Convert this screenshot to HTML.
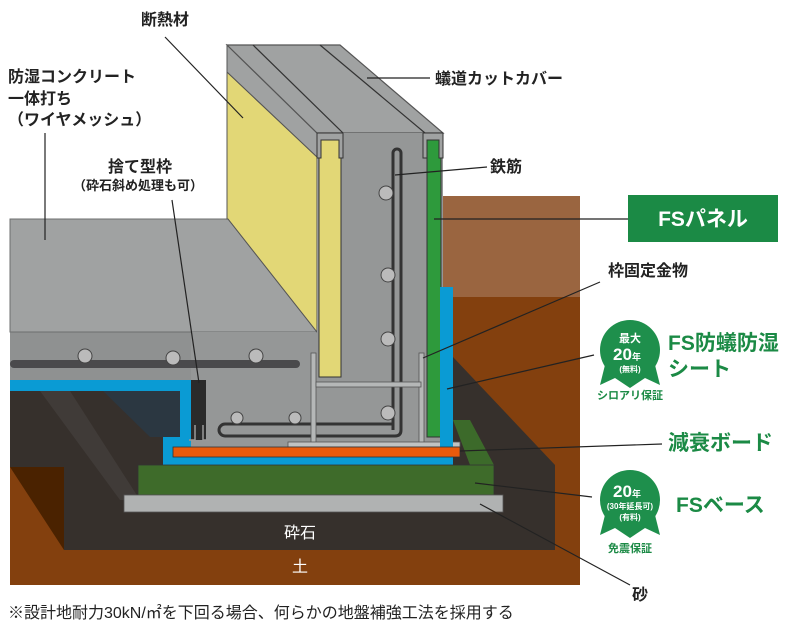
<!DOCTYPE html>
<html><head><meta charset="utf-8"><style>
html,body{margin:0;padding:0;background:#fff;}
svg{display:block;font-family:"Liberation Sans","Noto Sans CJK JP",sans-serif;}
</style></head><body>
<svg width="800" height="635" viewBox="0 0 800 635" xmlns="http://www.w3.org/2000/svg">
<!-- soil -->
<rect x="440" y="196" width="140" height="101" fill="#9a6540"/>
<rect x="10" y="297" width="570" height="288" fill="#83400e"/>
<rect x="10" y="297" width="443" height="170" fill="#fff"/>
<!-- dark gravel pit -->
<polygon points="10,390 453,357 555,465 555,550 64,550 64,467 10,467" fill="#36302c"/>
<polygon points="10,467 64,467 64,550" fill="#4a2200"/>
<polygon points="103,391 180,391 180,437 150,437" fill="#2b3741"/>
<polygon points="40,391 70,391 140,500 120,500" fill="#403b38"/>
<polygon points="453,420 470,420 494,465 470,465" fill="#3c6a2a"/>
<!-- slab -->
<polygon points="10,219 228,219 317,332 10,332" fill="#a0a2a2" stroke="#6d6f6f" stroke-width="1"/>
<rect x="10" y="332" width="307" height="50" fill="#8f9191"/>
<line x1="10" y1="332" x2="317" y2="332" stroke="#6d6f6f"/>
<!-- footing concrete -->
<rect x="191" y="332" width="252" height="115" fill="#959797"/>
<!-- wall side (yellow insulation) -->
<polygon points="227,72 317,157 317,332 228,219 227,219" fill="#e2d776" stroke="#555" stroke-width="1"/>
<polygon points="227,45 227,72 317,157 317,133" fill="#a0a2a2" stroke="#555" stroke-width="1"/>
<!-- wall top -->
<polygon points="227,45 340,45 443,133 317,133" fill="#a0a2a2" stroke="#555" stroke-width="1.2"/>
<line x1="253" y1="45" x2="343" y2="133" stroke="#333" stroke-width="1.2"/>
<line x1="320" y1="45" x2="425" y2="133" stroke="#333" stroke-width="1.2"/>
<!-- wall front -->
<rect x="317" y="133" width="126" height="310" fill="#959797"/>
<rect x="319" y="140" width="22" height="237" fill="#e2d776" stroke="#333" stroke-width="1"/>
<rect x="427" y="140" width="14" height="297" fill="#2e9a3c" stroke="#333" stroke-width="1"/>
<path d="M317,133 h26 v25 h-4 v-18 h-18 v18 h-4z" fill="#a0a2a2" stroke="#333"/>
<path d="M423,133 h20 v25 h-4 v-18 h-12 v18 h-4z" fill="#a0a2a2" stroke="#333"/>
<!-- slab rebar -->
<rect x="10" y="360" width="290" height="8" rx="4" fill="#4a4a4c"/>
<circle cx="85" cy="356" r="7" fill="#bbb" stroke="#444"/>
<circle cx="173" cy="358" r="7" fill="#bbb" stroke="#444"/>
<circle cx="256" cy="356" r="7" fill="#bbb" stroke="#444"/>
<!-- wall rebar -->
<path d="M393,430 V153 a4,4 0 0 1 8,0 V430 q0,6 -6,6 H225 a6,6 0 0 1 0,-12 H393" fill="none" stroke="#333" stroke-width="3"/>
<circle cx="386" cy="193" r="7" fill="#bbb" stroke="#444"/>
<circle cx="388" cy="275" r="7" fill="#bbb" stroke="#444"/>
<circle cx="388" cy="339" r="7" fill="#bbb" stroke="#444"/>
<circle cx="388" cy="413" r="7" fill="#bbb" stroke="#444"/>
<circle cx="237" cy="418" r="6" fill="#bbb" stroke="#444"/>
<circle cx="295" cy="418" r="6" fill="#bbb" stroke="#444"/>
<!-- bracket -->
<rect x="311" y="353" width="5" height="90" fill="#b5b7b7" stroke="#555" stroke-width="0.8"/>
<rect x="419" y="353" width="5" height="90" fill="#b5b7b7" stroke="#555" stroke-width="0.8"/>
<rect x="316" y="382" width="105" height="5" fill="#b5b7b7" stroke="#555" stroke-width="0.8"/>
<rect x="288" y="442" width="172" height="5" fill="#c0c2c2" stroke="#555" stroke-width="0.8"/>
<!-- blue sheet -->
<path d="M10,380 H191 V437 H180 V391 H10z" fill="#0a9bd4"/>
<path d="M440,287 H453 V465 H163 V437 H191 V447 H440z" fill="#0a9bd4"/>
<rect x="191" y="380" width="15" height="60" fill="#2a2a2a"/>
<path d="M189,440 h6 v-15 M209,440 h-6 v-15" fill="none" stroke="#999" stroke-width="1.5"/>
<!-- orange board -->
<rect x="173" y="447" width="287" height="10" fill="#e85a0c" stroke="#333" stroke-width="0.8"/>
<!-- FS base -->
<rect x="138" y="465" width="356" height="30" fill="#3e6b2a" stroke="#333" stroke-width="0.8"/>
<rect x="124" y="495" width="379" height="17" fill="#b0b2b2" stroke="#555" stroke-width="0.8"/>
<text x="300" y="538" font-size="16" fill="#fff" text-anchor="middle">砕石</text>
<text x="300" y="572" font-size="16" fill="#fff" text-anchor="middle">土</text>
<!-- leader lines -->
<g stroke="#222" stroke-width="1.2" fill="none">
<line x1="165" y1="37" x2="243" y2="118"/>
<line x1="45" y1="133" x2="45" y2="240"/>
<line x1="172" y1="200" x2="199" y2="383"/>
<line x1="367" y1="78" x2="430" y2="78"/>
<line x1="395" y1="175" x2="487" y2="167"/>
<line x1="434" y1="219" x2="628" y2="219"/>
<line x1="600" y1="282" x2="423" y2="358"/>
<line x1="447" y1="389" x2="594" y2="355"/>
<line x1="460" y1="451" x2="662" y2="444"/>
<line x1="475" y1="483" x2="592" y2="497"/>
<line x1="480" y1="504" x2="630" y2="585"/>
</g>
<!-- labels -->
<g font-size="16" fill="#222" font-weight="bold">
<text x="165" y="25" text-anchor="middle">断熱材</text>
<text x="8" y="82">防湿コンクリート</text>
<text x="8" y="104">一体打ち</text>
<text x="8" y="125">（ワイヤメッシュ）</text>
<text x="140" y="172" text-anchor="middle">捨て型枠</text>
<text x="138" y="190" text-anchor="middle" font-size="13">（砕石斜め処理も可）</text>
<text x="435" y="84">蟻道カットカバー</text>
<text x="490" y="172">鉄筋</text>
<text x="608" y="276">枠固定金物</text>
<text x="632" y="600">砂</text>
</g>
<text x="8" y="618" font-size="16" fill="#222">※設計地耐力30kN/㎡を下回る場合、何らかの地盤補強工法を採用する</text>
<!-- FS panel -->
<rect x="628" y="195" width="150" height="47" fill="#1b8a45"/>
<text x="703" y="226" font-size="21" font-weight="bold" fill="#fff" text-anchor="middle">FSパネル</text>
<!-- badges -->
<g fill="#1e8f4c">
<circle cx="630" cy="350" r="30"/>
<polygon points="605,365 600,385 615,378 630,388 645,378 660,385 655,365"/>
<circle cx="630" cy="500" r="30"/>
<polygon points="605,515 600,535 615,528 630,538 645,528 660,535 655,515"/>
</g>
<g fill="#fff" text-anchor="middle" font-weight="bold">
<text x="630" y="342" font-size="11">最大</text>
<text x="627" y="360" font-size="17">20<tspan font-size="9">年</tspan></text>
<text x="630" y="372" font-size="8">(無料)</text>
<text x="627" y="497" font-size="17">20<tspan font-size="9">年</tspan></text>
<text x="630" y="509" font-size="8">(30年延長可)</text>
<text x="630" y="520" font-size="8">(有料)</text>
</g>
<g fill="#1b8a45" font-weight="bold">
<text x="630" y="399" font-size="11" text-anchor="middle">シロアリ保証</text>
<text x="630" y="552" font-size="11" text-anchor="middle">免震保証</text>
<text x="668" y="350" font-size="21">FS防蟻防湿</text>
<text x="668" y="376" font-size="21">シート</text>
<text x="668" y="450" font-size="21">減衰ボード</text>
<text x="676" y="512" font-size="21">FSベース</text>
</g>
</svg>
</body></html>
